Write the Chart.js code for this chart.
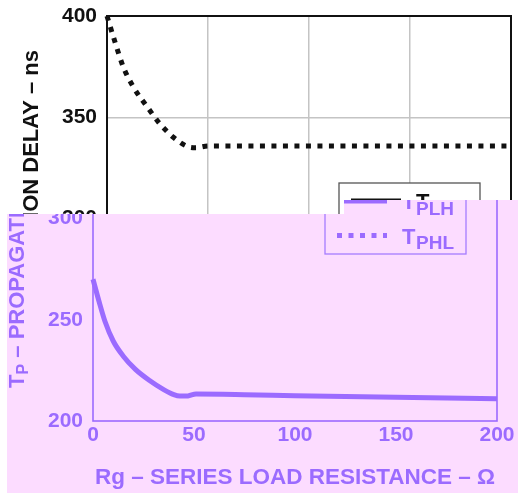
<!DOCTYPE html>
<html>
<head>
<meta charset="utf-8">
<script src="https://cdn.jsdelivr.net/npm/chart.js@4.4.1/dist/chart.umd.min.js"></script>
<style>
html, body { margin: 0; padding: 0; background: #fff; }
#wrap { position: relative; width: 518px; height: 495px; overflow: hidden; }
.layer { position: absolute; left: 0; top: 0; width: 518px; height: 495px; }
#tint {
    background: #fcdcff;
    clip-path: polygon(7px 214px, 344px 214px, 344px 200px, 518px 200px, 518px 493px, 7px 493px);
}
#shift { position: absolute; left: -14px; top: 0; width: 532px; height: 495px; }
</style>
</head>
<body>
<div id="wrap">
    <div class="layer"><canvas id="plain" width="518" height="495"></canvas></div>
    <div class="layer" id="tint"><div id="shift"><canvas id="tinted" width="532" height="495"></canvas></div></div>
</div>
<script>
// данные графика
const plhX = [0, 3, 6, 10, 15, 21, 28, 35, 40, 43, 47, 51, 75, 100, 150, 200];
const plhY = [270, 259, 249, 239.5, 232, 225.5, 220, 215.5, 213, 212.3, 212.4, 213.3, 213, 212.5, 211.7, 211];
const phlX = [0, 4, 8, 13, 20, 26, 33, 40, 44, 50, 100, 150, 200];
const phlY = [400, 387, 375, 365, 355, 347, 340, 335.5, 335, 335.8, 335.8, 335.8, 335.8];
const seriesNames = [['T', 'PLH'], ['T', 'PHL']];
const xRange = [0, 200];
const yRange = [200, 400];
const tickStep = 50;
const xTitle = 'Rg – SERIES LOAD RESISTANCE – Ω';
const yTitle = ['T', 'P', ' – PROPAGATION DELAY – ns'];

const FONT = "'Liberation Sans', Arial, sans-serif";

const toPoints = (xs, ys) => xs.map((x, i) => ({ x: x, y: ys[i] }));

// рамка, легенда и подписи осей
const decorPlugin = {
    id: 'decor',
    afterDatasetsDraw(chart, args, opts) {
        const ctx = chart.ctx;
        const a = chart.chartArea;
        ctx.save();
        ctx.strokeStyle = opts.ink;
        ctx.lineWidth = opts.frameWidth;
        ctx.strokeRect(a.left, a.top, a.right - a.left, a.bottom - a.top);

        // легенда
        const bx = 339, by = 183, bw = 141, bh = 71;
        ctx.fillStyle = opts.bg;
        ctx.fillRect(bx, by, bw, bh);
        ctx.lineWidth = 1.3;
        ctx.strokeStyle = opts.box;
        ctx.strokeRect(bx, by, bw, bh);

        const rows = [{ y: 201, dash: [] }, { y: 235.5, dash: [5, 6.5] }];
        rows.forEach((r, i) => {
            ctx.beginPath();
            ctx.setLineDash(r.dash);
            ctx.lineWidth = 5;
            ctx.strokeStyle = opts.ink;
            ctx.moveTo(351, r.y);
            ctx.lineTo(401, r.y);
            ctx.stroke();
            ctx.setLineDash([]);
            ctx.fillStyle = opts.ink;
            ctx.textBaseline = 'alphabetic';
            ctx.textAlign = 'left';
            ctx.font = 'bold 22px ' + FONT;
            ctx.fillText(seriesNames[i][0], 416, r.y + 8);
            ctx.font = 'bold 19px ' + FONT;
            ctx.fillText(seriesNames[i][1], 430, r.y + 13.5);
        });

        // подпись оси X
        ctx.fillStyle = opts.ink;
        ctx.font = 'bold 22.5px ' + FONT;
        ctx.textAlign = 'center';
        ctx.fillText(xTitle, (a.left + a.right) / 2, 484);

        // подпись оси Y
        ctx.translate(38, 219);
        ctx.rotate(-Math.PI / 2);
        ctx.textAlign = 'left';
        ctx.font = 'bold 22px ' + FONT;
        const w0 = ctx.measureText(yTitle[0]).width;
        const w2 = ctx.measureText(yTitle[2]).width;
        ctx.font = 'bold 16px ' + FONT;
        const w1 = ctx.measureText(yTitle[1]).width;
        let x = -(w0 + w1 + w2) / 2;
        ctx.font = 'bold 22px ' + FONT;
        ctx.fillText(yTitle[0], x, 0);
        x += w0;
        ctx.font = 'bold 16px ' + FONT;
        ctx.fillText(yTitle[1], x, 4);
        x += w1;
        ctx.font = 'bold 22px ' + FONT;
        ctx.fillText(yTitle[2], x, 0);
        ctx.restore();
    }
};

function makeChart(id, theme) {
    const ctx = document.getElementById(id).getContext('2d');
    return new Chart(ctx, {
        type: 'line',
        data: {
            datasets: [{
                label: 'TPLH',
                data: toPoints(plhX, plhY),
                borderColor: theme.ink,
                borderWidth: 5,
                pointRadius: 0,
                cubicInterpolationMode: 'monotone',
                clip: false
            }, {
                label: 'TPHL',
                data: toPoints(phlX, phlY),
                borderColor: theme.ink,
                borderWidth: 5,
                borderDash: [5, 6.5],
                borderCapStyle: 'butt',
                pointRadius: 0,
                cubicInterpolationMode: 'monotone',
                clip: false
            }]
        },
        options: {
            responsive: false,
            animation: false,
            events: [],
            layout: { padding: { top: 16, right: theme.padRight, left: 0, bottom: 0 } },
            plugins: {
                legend: { display: false },
                tooltip: { enabled: false },
                decor: theme
            },
            scales: {
                x: {
                    type: 'linear',
                    min: xRange[0],
                    max: xRange[1],
                    ticks: {
                        stepSize: tickStep,
                        padding: 2,
                        color: theme.ink,
                        font: { family: FONT, size: 21, weight: 'bold' }
                    },
                    grid: { display: theme.grid !== null, color: theme.grid, lineWidth: 1.5, drawTicks: false },
                    border: { display: false },
                    afterFit(scale) {
                        scale.height = 74;
                        scale.paddingLeft = 0;
                        scale.paddingRight = 0;
                    }
                },
                y: {
                    min: yRange[0],
                    max: yRange[1],
                    ticks: {
                        stepSize: tickStep,
                        padding: 10,
                        color: theme.ink,
                        font: { family: FONT, size: 21, weight: 'bold' }
                    },
                    grid: { display: theme.grid !== null, color: theme.grid, lineWidth: 1.5, drawTicks: false },
                    border: { display: false },
                    afterFit(scale) {
                        scale.width = 107;
                        scale.paddingTop = 0;
                        scale.paddingBottom = 0;
                    }
                }
            }
        },
        plugins: [decorPlugin]
    });
}

makeChart('plain', { ink: '#111111', grid: '#c4c4c4', bg: '#ffffff', box: '#555555', frameWidth: 2, padRight: 7 });
makeChart('tinted', { ink: '#9b6bff', grid: null, bg: '#fcdcff', box: '#a57cff', frameWidth: 1.6, padRight: 21 });
</script>
</body>
</html>
